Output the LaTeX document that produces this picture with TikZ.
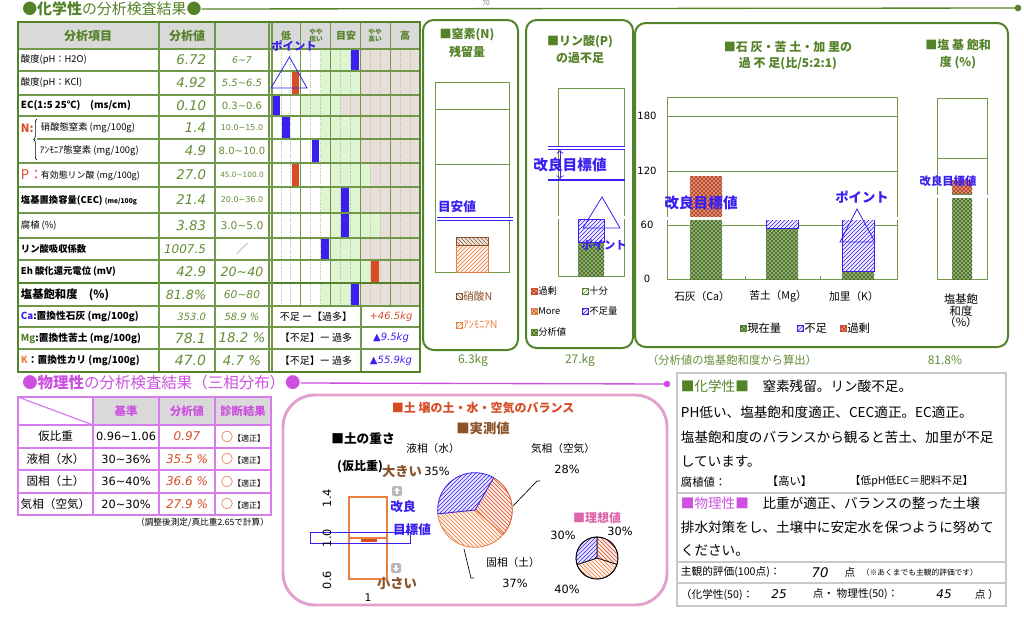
\documentclass[tikz,border=0pt]{standalone}
\usepackage{fontspec}
\setmainfont{Noto Sans CJK JP}
\newfontfamily\numf{DejaVu Sans}
\usetikzlibrary{patterns,arrows.meta,decorations.pathreplacing}
\definecolor{dgreen}{RGB}{84,130,40}
\definecolor{vgreen}{RGB}{98,140,52}
\definecolor{tgreen}{RGB}{112,152,72}
\definecolor{lgreen}{RGB}{222,245,210}
\definecolor{lpink}{RGB}{232,222,218}
\definecolor{hgray}{RGB}{217,217,217}
\definecolor{pblue}{RGB}{58,32,240}
\definecolor{pred}{RGB}{214,76,36}
\definecolor{porange}{RGB}{232,128,64}
\definecolor{pbrown}{RGB}{140,82,40}
\definecolor{mag}{RGB}{205,80,225}
\definecolor{lmag}{RGB}{215,125,235}
\definecolor{ppink}{RGB}{226,160,205}
\definecolor{dpink}{RGB}{220,100,170}
\definecolor{bgray}{RGB}{200,200,200}
\newcommand\fsz[1]{\fontsize{#1}{#1}\selectfont}
\newcommand\nit{\numf\itshape}
\newcommand\tld{\textasciitilde}

\begin{document}
\begin{tikzpicture}[x=0.75pt, y=-0.75pt,
	every node/.style={inner sep=0.5pt},
	tline/.style={draw=tgreen, line width=0.9pt},
	dmesh/.style={preaction={fill=#1!60}, preaction={pattern=north east lines, pattern color=#1!80!black}, pattern=north west lines, pattern color=#1!80!black},
	bhatch/.style={preaction={fill=pblue!8}, pattern=north east lines, pattern color=pblue, draw=pblue, line width=0.6pt},
	slice/.style={preaction={fill=#1!12}, draw=#1, line width=0.6pt, pattern color=#1},
	aim/.style={draw=pblue, line width=0.5pt, double=white, double distance=1.8pt},
	bluebig/.style={text=pblue, font=\bfseries\fsz{#1}},
	panel/.style={draw=dgreen, line width=1.5pt, rounded corners=8pt},
	gtitle/.style={text=dgreen, font=\bfseries\fsz{9}},
	val/.style={anchor=east, text=vgreen, font=\nit\fsz{#1}},
	rng/.style={text=vgreen, font=\numf\fsz{#1}},
	rngi/.style={text=vgreen, font=\nit\fsz{#1}},
	item/.style={anchor=west, font=\fsz{#1}},
	itemb/.style={anchor=west, font=\bfseries\fsz{#1}},
	legbox/.style={minimum size=4.5pt, inner sep=0pt, line width=0.5pt},
	]
	\useasboundingbox (0,0) rectangle (1024,621);
	\node[text=gray, font=\fsz{5}] (pgno) at (486,3) {70};
	
	% chemistry title
	\node[anchor=west, inner sep=0, text=dgreen, font=\fsz{11.2}] (chemtitle) at (22,9) {●\textbf{化学性}の分析検査結果●};
	\coordinate (chemend) at (1018,8);
	\draw[dgreen, line width=1pt] (chemtitle.east) -- (chemend);
	\fill[dgreen] (chemend) circle (2.5pt);
	
	% table background
	\fill[hgray] (18,22) rectangle (420,49);
	\foreach \ya/\yb/\w/\g/\k/\c in {49/71/5/9/8/pblue,71/95/5/9/2/pred,95/116/3/7/0/pblue,116/139/5/9/1/pblue,139/163/5/9/4/pblue,163/187/6/10/2/pred,187/213/5/9/7/pblue,213/238/6/11/7/pblue,238/260/5/9/5/pblue,260/283/6/10/10/pred,283/306/5/9/8/pblue}{
		\fill[white] (271,\ya) rectangle (271+9.93*\w,\yb);
		\fill[lgreen] (271+9.93*\w,\ya) rectangle (271+9.93*\g,\yb);
		\fill[lpink] (271+9.93*\g,\ya) rectangle (420,\yb);
		\fill[\c] (271.8+9.93*\k,\ya+1) rectangle (279.6+9.93*\k,\yb-1);
	}
	\foreach \k in {1,2,4,5,7,8,10,11,13,14}
		\draw[tgreen!55, densely dotted, line width=0.6pt] (271+9.93*\k,49) -- (271+9.93*\k,306);
	\foreach \k in {3,6,9,12}
		\draw[tline] (271+9.93*\k,22) -- (271+9.93*\k,306);
	\foreach \y in {49,71,95,116,163,187,213,238,260,283,306,327,349}
		\draw[tline] (18,\y) -- (420,\y);
	\draw[tline] (37,139) -- (420,139);
	\draw[dgreen, line width=1.3pt] (18,283) -- (420,283);
	\foreach \x in {159,215,269,272}
		\draw[tline] (\x,22) -- (\x,372);
	\draw[tline] (361,306) -- (361,372);
	\draw[dgreen, line width=1.8pt] (18,22) rectangle (420,372);
	
	% headers
	\node[text=dgreen, font=\bfseries\fsz{9}] (h1) at (88,35.5) {分析項目};
	\node[text=dgreen, font=\bfseries\fsz{9}] (h2) at (187,35.5) {分析値};
	\node[text=dgreen, font=\bfseries\fsz{7.5}] (g1) at (286,35.5) {低};
	\node[text=dgreen, font=\bfseries\fsz{5}, align=center] (g2) at (316,35.5) {やや\\低い};
	\node[text=dgreen, font=\bfseries\fsz{7.5}] (g3) at (346,35.5) {目安};
	\node[text=dgreen, font=\bfseries\fsz{5}, align=center] (g4) at (375,35.5) {やや\\高い};
	\node[text=dgreen, font=\bfseries\fsz{7.5}] (g5) at (405,35.5) {高};
	
	% items
	\begin{scope}
		\clip (18,49) rectangle (158.5,372);
		\node[item=7] (i1) at (20,60) {酸度(pH：H2O)};
		\node[item=7] (i2) at (20,83) {酸度(pH：KCl)};
		\node[itemb=7.3] (i3) at (20,105.5) {EC(1:5 25℃)　(ms/cm)};
		\node[itemb=8.5, text=pred] (in) at (20,128) {N:};
		\node[item=7] (i4) at (40,127.5) {硝酸態窒素 (mg/100g)};
		\node[item=7] (i5) at (39,151) {ｱﾝﾓﾆｱ態窒素 (mg/100g)};
		\node[item=10, text=pred] (ip) at (20,175) {P：};
		\node[item=6.7] (i6) at (40,176) {有効態リン酸 (mg/100g)};
		\node[itemb=7] (i7) at (20,200) {塩基置換容量(CEC) {\fsz{5}(me/100g}};
		\node[item=7] (i8) at (20,225.5) {腐植 (\%)};
		\node[itemb=7] (i9) at (20,249) {リン酸吸収係数};
		\node[itemb=7] (i10) at (20,271.5) {Eh 酸化還元電位 (mV)};
		\node[itemb=8.5] (i11) at (20,294.5) {塩基飽和度　(\%)};
		\node[itemb=7.3] (i12) at (20,316.5) {{\color{pblue}Ca}:置換性石灰 (mg/100g)};
		\node[itemb=7.3] (i13) at (20,338) {{\color{dgreen}Mg}:置換性苦土 (mg/100g)};
		\node[itemb=7.3] (i14) at (20,360.5) {{\color{porange}K}：置換性カリ (mg/100g)};
	\end{scope}
	\draw[decorate, decoration={brace, amplitude=2.5pt}, line width=0.5pt] (37,160) -- (37,119);
	
	% values
	\node[val=10] (v1) at (207,60) {6.72};
	\node[val=10] (v2) at (207,83) {4.92};
	\node[val=10] (v3) at (207,105.5) {0.10};
	\node[val=10] (v4) at (207,127.5) {1.4};
	\node[val=10] (v5) at (207,151) {4.9};
	\node[val=10] (v6) at (207,175) {27.0};
	\node[val=10] (v7) at (207,200) {21.4};
	\node[val=10] (v8) at (207,225.5) {3.83};
	\node[val=9] (v9) at (207,249) {1007.5};
	\node[val=10] (v10) at (207,271.5) {42.9};
	\node[val=9.5] (v11) at (207,294.5) {81.8\%};
	\node[val=7.5] (v12) at (207,316.5) {353.0};
	\node[val=10.5] (v13) at (207,338) {78.1};
	\node[val=10.5] (v14) at (207,360.5) {47.0};
	
	% ranges
	\node[rngi=7] (r1) at (242,60) {6\tld7};
	\node[rngi=7.5] (r2) at (242,83) {5.5\tld6.5};
	\node[rng=7.5] (r3) at (242,105.5) {0.3\tld0.6};
	\node[rng=6] (r4) at (242,127.5) {10.0\tld15.0};
	\node[rng=7.5] (r5) at (242,151) {8.0\tld10.0};
	\node[rng=5.5] (r6) at (242,175) {45.0\tld100.0};
	\node[rng=6] (r7) at (242,200) {20.0\tld36.0};
	\node[rng=8] (r8) at (242,225.5) {3.0\tld5.0};
	\node[text=vgreen, font=\fsz{9}] (r9) at (242,249) {／};
	\node[rngi=9.5] (r10) at (242,271.5) {20\tld40};
	\node[rngi=8] (r11) at (242,294.5) {60\tld80};
	\node[rngi=7.5] (r12) at (242,316.5) {58.9 \%};
	\node[rngi=10] (r13) at (242,338) {18.2 \%};
	\node[rngi=10] (r14) at (242,360.5) {4.7 \%};
	
	% balance rows
	\node[font=\fsz{7.5}] (b1) at (316,316.5) {不足 ー【過多】};
	\node[font=\fsz{7.5}] (b2) at (316,338) {【不足】ー 過多};
	\node[font=\fsz{7.5}] (b3) at (316,360.5) {【不足】ー 過多};
	\node[text=pred, font=\nit\fsz{7.5}] (k1) at (391,316.5) {+46.5kg};
	\node[text=pblue, font=\nit\fsz{7.5}] (k2) at (391,338) {▲9.5kg};
	\node[text=pblue, font=\nit\fsz{7.5}] (k3) at (391,360.5) {▲55.9kg};
	
	% point marker
	\draw[pblue, line width=0.6pt] (271,88) -- (289.5,57) -- (307,88) -- cycle;
	\node[bluebig=8.5] (pt1) at (294,46) {ポイント};
	
	% nitrogen panel
	\draw[panel] (423,20) rectangle (518,350);
	\node[gtitle] (nt1) at (467,35) {■窒素(N)};
	\node[gtitle] (nt2) at (467,52) {残留量};
	\draw[tgreen, line width=0.7pt] (435,82) rectangle (509,272);
	\draw[tgreen, line width=0.7pt] (435,109) -- (509,109) (435,164) -- (509,164);
	\fill[white] (456,237) rectangle (488,272);
	\draw[slice=porange, pattern=north east lines] (456,245) rectangle (488,272);
	\draw[slice=pbrown, pattern=north west lines] (456,237) rectangle (488,245);
	\draw[aim] (437,219) -- (513,219);
	\node[bluebig=9.5] (meyasu) at (457,207) {目安値};
	\node[legbox, draw=pbrown, pattern=north west lines, pattern color=pbrown] (lgn1) at (459,296) {};
	\node[anchor=west, text=pbrown, font=\fsz{8}] (lgn1t) at (lgn1.east) {硝酸N};
	\node[legbox, draw=porange, pattern=north east lines, pattern color=porange] (lgn2) at (459,325) {};
	\node[anchor=west, text=porange, font=\fsz{8}] (lgn2t) at (lgn2.east) {ｱﾝﾓﾆｱN};
	\node[text=vgreen, font=\fsz{9}] (nkg) at (473,360) {6.3kg};
	
	% phosphate panel
	\draw[panel] (526,20) rectangle (633,348);
	\node[gtitle] (pt1a) at (580,42) {■リン酸(P)};
	\node[gtitle] (pt1b) at (580,58) {の過不足};
	\draw[tgreen, line width=0.7pt] (558,88) rectangle (624,276);
	\path[dmesh=dgreen] (578,242) rectangle (604,276);
	\path[bhatch] (578,219) rectangle (604,242);
	\draw[aim] (548,148) -- (625,148);
	\draw[pblue, line width=1.6pt] (548,180) -- (625,180);
	\coordinate (pa) at (560,150);
	\coordinate (pb) at (560,179);
	\draw[pblue, <->, line width=0.5pt] (pa) -- (pb);
	\node[bluebig=11] (paim) at (570,165) {改良目標値};
	\draw[aim] (548,217.5) -- (625,217.5);
	\draw[pblue, line width=0.6pt] (583,228) -- (602,197) -- (620,228) -- cycle;
	\node[bluebig=8.5] (pt2) at (604,245) {ポイント};
	\node[legbox, dmesh=pred, draw=pred] (lp1) at (534,291) {};
	\node[anchor=west, font=\fsz{7}] at (lp1.east) {過剰};
	\node[legbox, draw=dgreen, pattern=north east lines, pattern color=dgreen] (lp2) at (585,291) {};
	\node[anchor=west, font=\fsz{7}] at (lp2.east) {十分};
	\node[legbox, draw=porange, dmesh=porange] (lp3) at (534,311) {};
	\node[anchor=west, font=\fsz{7}] at (lp3.east) {More};
	\node[legbox, bhatch] (lp4) at (585,311) {};
	\node[anchor=west, font=\fsz{7}] at (lp4.east) {不足量};
	\node[legbox, draw=dgreen, dmesh=dgreen] (lp5) at (534,332) {};
	\node[anchor=west, font=\fsz{7}] at (lp5.east) {分析値};
	\node[text=vgreen, font=\fsz{9}] (pkg) at (580,360) {27.kg};
	
	% base ratio panel
	\draw[panel] (635,23) rectangle (1008,347);
	\node[gtitle] (ct1) at (788,47) {■石 灰・苦 土・加 里の};
	\node[gtitle] (ct2) at (788,64) {過 不 足(比/5:2:1)};
	\node[gtitle] (st1) at (958,45) {■塩 基 飽和};
	\node[gtitle] (st2) at (958,63) {度 (\%)};
	\draw[tgreen, line width=0.7pt] (667,97) rectangle (897,279);
	\foreach \y/\v in {116/180,171/120,225/60}{
		\draw[tgreen, line width=0.7pt] (667,\y) -- (897,\y);
		\node[font=\numf\fsz{7.5}] at (647,\y) {\v};
	}
	\node[font=\numf\fsz{7.5}] (y0) at (647,279) {0};
	\draw[tgreen] (745,276) -- (745,279) (820,276) -- (820,279);
	\path[dmesh=dgreen] (690,219) rectangle (722,279);
	\path[dmesh=pred] (690,176) rectangle (722,219);
	\path[dmesh=dgreen] (766,228) rectangle (798,279);
	\path[bhatch] (766,219) rectangle (798,228);
	\path[dmesh=dgreen] (842,271) rectangle (874,279);
	\path[bhatch] (842,219) rectangle (874,271);
	\draw[aim] (665,218.5) -- (901,218.5);
	\node[bluebig=11] (caim) at (701,203) {改良目標値};
	\draw[pblue, line width=0.6pt] (840,242) -- (857,209) -- (875,242) -- cycle;
	\node[bluebig=10] (pt3) at (862,197) {ポイント};
	\node[font=\fsz{8}] (ca) at (702,296) {石灰（Ca）};
	\node[font=\fsz{8}] (mg) at (778,296) {苦土（Mg）};
	\node[font=\fsz{8}] (kk) at (854,296) {加里（K）};
	\node[legbox, draw=dgreen, dmesh=dgreen] (lc1) at (743,328) {};
	\node[anchor=west, font=\fsz{8.5}] at (lc1.east) {現在量};
	\node[legbox, bhatch] (lc2) at (800,328) {};
	\node[anchor=west, font=\fsz{8.5}] at (lc2.east) {不足};
	\node[legbox, draw=pred, dmesh=pred] (lc3) at (843,328) {};
	\node[anchor=west, font=\fsz{8.5}] at (lc3.east) {過剰};
	\draw[tgreen, line width=0.7pt] (937,98) rectangle (987,279);
	\draw[tgreen, line width=0.7pt] (937,158) -- (987,158);
	\path[dmesh=dgreen] (952,193) rectangle (972,279);
	\path[dmesh=pred] (952,180) rectangle (972,193);
	\draw[aim] (917,196.5) -- (994,196.5);
	\node[bluebig=8.5] (saim) at (948,181) {改良目標値};
	\node[font=\fsz{8.5}, align=center] (sat) at (961,311) {塩基飽\\和度\\（\%）};
	\node[text=vgreen, font=\fsz{8.5}] (calc) at (732,360) {（分析値の塩基飽和度から算出）};
	\node[text=vgreen, font=\fsz{9}] (satv) at (945,360) {81.8\%};
	
	% physics title
	\node[anchor=west, inner sep=0, text=mag, font=\fsz{11.6}] (phytitle) at (22,383) {●\textbf{物理性}の分析検査結果（三相分布）●};
	\coordinate (phyend) at (667,384);
	\draw[mag, line width=1pt] (phytitle.east) -- (phyend);
	\fill[mag] (phyend) circle (2.5pt);
	
	% physics table
	\fill[hgray] (93,397) rectangle (271,425);
	\foreach \y in {425,448,470,493}
		\draw[lmag, line width=0.9pt] (18,\y) -- (271,\y);
	\foreach \x in {93,159,215}
		\draw[lmag, line width=0.9pt] (\x,397) -- (\x,515);
	\draw[lmag, line width=0.9pt] (18,397) -- (93,425);
	\draw[lmag, line width=1.6pt] (18,397) rectangle (271,515);
	\node[text=mag, font=\bfseries\fsz{8.5}] (ph1) at (126,411) {基準};
	\node[text=mag, font=\bfseries\fsz{8.5}] (ph2) at (187,411) {分析値};
	\node[text=mag, font=\bfseries\fsz{8.5}] (ph3) at (243,411) {診断結果};
	\foreach \y/\a/\b/\c in {436.5/仮比重/0.96\tld1.06/0.97, 459/液相（水）/30\tld36\%/35.5 \%, 481.5/固相（土）/36\tld40\%/36.6 \%, 504/気相（空気）/20\tld30\%/27.9 \%}{
		\node[font=\fsz{8.7}] at (55.5,\y) {\a};
		\node[font=\numf\fsz{8.5}] at (126,\y) {\b};
		\node[text=pred, font=\nit\fsz{9}] at (187,\y) {\c};
		\node at (243,\y) {{\color{pred}\bfseries\fsz{9}○}{\fsz{6}【適正】}};
	}
	\node[anchor=east, font=\fsz{6.5}] (note) at (270,523) {（調整後測定/真比重2.65で計算）};
	
	% balance panel
	\draw[ppink, line width=2.2pt, rounded corners=24pt] (283,395) rectangle (667,605);
	\node[text=pred, font=\bfseries\fsz{9}] (bt) at (483,408) {■土 壌の土・水・空気のバランス};
	\node[text=pbrown, font=\bfseries\fsz{10}] (bm) at (483,428) {■実測値};
	\node[font=\bfseries\fsz{9.5}] (wt) at (363,438) {■土の重さ};
	\node[font=\bfseries\fsz{9}] (wt2) at (360,467) {(仮比重)};
	\draw[porange, line width=0.8pt] (349,497) rectangle (387,579);
	\draw[porange, line width=0.8pt] (349,538) -- (387,538);
	\fill[pred] (361,538.5) rectangle (377,541.5);
	\draw[pblue, line width=0.6pt] (310,532) rectangle (410,543);
	\node[text=pbrown, font=\bfseries\fsz{10}] (big) at (402,471) {大きい};
	\node[text=pbrown, font=\bfseries\fsz{10}] (small) at (397,584) {小さい};
	\foreach \y/\v in {498/1.4,538/1.0,580/0.6}
		\node[rotate=90, font=\numf\fsz{8.5}] at (327,\y) {\v};
	\node[font=\numf\fsz{8}] (one) at (368,598) {1};
	\fill[gray!55, rounded corners=1.5pt] (392,486) rectangle (402,496);
	\draw[white, line width=1.2pt, -{Triangle[length=2.5pt, width=4pt]}] (397,494) -- (397,487.5);
	\fill[gray!55, rounded corners=1.5pt] (391,563) rectangle (401,573);
	\draw[white, line width=1.2pt, -{Triangle[length=2.5pt, width=4pt]}] (396,565) -- (396,571.5);
	\node[bluebig=9.5] (kai) at (403,507) {改良};
	\node[bluebig=9.5] (mok) at (412,530) {目標値};
	
	% measured pie
	\coordinate (pc) at (475,510);
	\filldraw[slice=pred, pattern=north west lines] (pc) -- ++(60:28pt) arc[start angle=60, end angle=-40.8, radius=28pt] -- cycle;
	\filldraw[slice=porange, pattern=north west lines] (pc) -- ++(-40.8:28pt) arc[start angle=-40.8, end angle=-174, radius=28pt] -- cycle;
	\filldraw[slice=pblue, pattern=north east lines] (pc) -- ++(186:28pt) arc[start angle=186, end angle=60, radius=28pt] -- cycle;
	\node[font=\fsz{8}] (lw) at (433,448) {液相（水）};
	\node[font=\numf\fsz{8.5}] (lwv) at (437,471) {35\%};
	\node[font=\fsz{8}] (la) at (563,448) {気相（空気）};
	\node[font=\numf\fsz{8.5}] (lav) at (567,469) {28\%};
	\node[font=\fsz{8}] (ls) at (513,562) {固相（土）};
	\node[font=\numf\fsz{8.5}] (lsv) at (515,583) {37\%};
	\coordinate (ca1) at (540,481);
	\coordinate (ca2) at (513,506);
	\draw[line width=0.5pt] (ca1) -- ++(-3,0) -- (ca2);
	\coordinate (cs1) at (464,549);
	\coordinate (cs2) at (474,578);
	\draw[line width=0.5pt] (cs1) -- (471,578) -- (cs2);
	
	% ideal pie
	\node[text=dpink, font=\bfseries\fsz{9}] (ideal) at (597,518) {■理想値};
	\coordinate (ic) at (597,558);
	\filldraw[slice=pred, draw=black, pattern=north west lines, line width=0.5pt] (ic) -- ++(90:15.75pt) arc[start angle=90, end angle=-18, radius=15.75pt] -- cycle;
	\filldraw[slice=porange, draw=black, pattern=north west lines, line width=0.5pt] (ic) -- ++(-18:15.75pt) arc[start angle=-18, end angle=-162, radius=15.75pt] -- cycle;
	\filldraw[slice=pblue, draw=black, pattern=north east lines, line width=0.5pt] (ic) -- ++(198:15.75pt) arc[start angle=198, end angle=90, radius=15.75pt] -- cycle;
	\draw[line width=0.6pt] (ic) circle (15.75pt);
	\node[font=\numf\fsz{8.5}] (i30a) at (563,535) {30\%};
	\node[font=\numf\fsz{8.5}] (i30b) at (620,531) {30\%};
	\node[font=\numf\fsz{8.5}] (i40) at (567,589) {40\%};
	
	% comment box
	\draw[bgray, line width=0.9pt] (677,373) rectangle (1006,606);
	\draw[bgray, line width=0.9pt] (677,493) -- (1006,493) (677,562) -- (1006,562) (677,583) -- (1006,583);
	\node[item=10.2] (c1) at (680,386) {{\color{dgreen}■化学性■}　窒素残留。リン酸不足。};
	\node[item=10.2] (c2) at (680,412) {PH低い、塩基飽和度適正、CEC適正。EC適正。};
	\node[item=10.2] (c3) at (680,437) {塩基飽和度のバランスから観ると苦土、加里が不足};
	\node[item=10.2] (c4) at (680,462) {しています。};
	\node[item=8.5] (c5) at (680,482) {腐植値：};
	\node[item=8.5] (c5b) at (766,481) {【高い】};
	\node[item=8] (c5c) at (849,481) {【低pH低EC＝肥料不足】};
	\node[item=10.2] (c6) at (680,503) {{\color{mag}■物理性■}　比重が適正、バランスの整った土壌};
	\node[item=10.2] (c7) at (680,527) {排水対策をし、土壌中に安定水を保つように努めて};
	\node[item=10.2] (c8) at (680,550) {ください。};
	\node[item=8] (c9) at (680,572.5) {主観的評価(100点)：};
	\node[font=\nit\fsz{10}] (c9v) at (820,572.5) {70};
	\node[font=\fsz{8}] (c9p) at (850,572.5) {点};
	\node[item=5.8] (c9n) at (861,573) {（※あくまでも主観的評価です）};
	\node[item=8] (c10) at (680,594.5) {（化学性(50)：};
	\node[font=\nit\fsz{9}] (c10a) at (779,594.5) {25};
	\node[item=8] (c10b) at (812,594.5) {点・ 物理性(50)：};
	\node[font=\nit\fsz{9}] (c10c) at (944,594.5) {45};
	\node[item=8] (c10d) at (974,594.5) {点 ）};
\end{tikzpicture}
\end{document}
